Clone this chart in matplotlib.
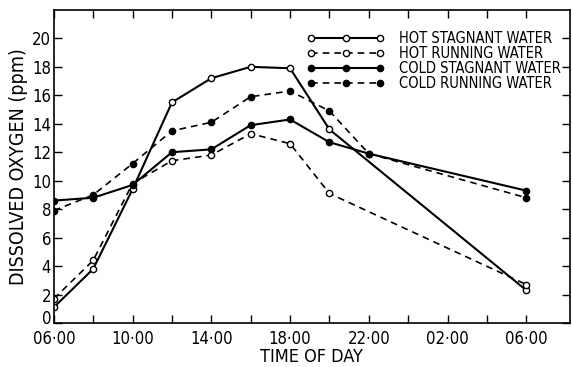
import numpy as np
import matplotlib
matplotlib.use("Agg")
import matplotlib.pyplot as plt
import matplotlib.transforms as mtransforms

# Data (hours after 06:00)
hours_a = [0, 2, 4, 6, 8, 10, 12, 14, 24]
hours_b = [0, 2, 4, 6, 8, 10, 12, 14, 16, 24]
hot_stagnant = [1.1, 3.8, 9.4, 15.5, 17.2, 18.0, 17.9, 13.6, 2.3]
hot_running = [1.7, 4.4, 9.8, 11.4, 11.8, 13.3, 12.6, 9.1, 2.7]
cold_stagnant = [8.6, 8.8, 9.7, 12.0, 12.2, 13.9, 14.3, 12.7, 11.9, 9.3]
cold_running = [7.9, 9.0, 11.2, 13.5, 14.1, 15.9, 16.3, 14.9, 11.9, 8.8]

xtick_pos = [0, 4, 8, 12, 16, 20, 24]
xtick_labels = ["06·00", "10·00", "14·00", "18·00", "22·00", "02·00", "06·00"]

plt.rcParams['font.family'] = ['DejaVu Sans']
plt.rcParams['font.stretch'] = 'condensed'

fig = plt.figure(figsize=(5.73, 3.67), dpi=100)
ax = fig.add_axes([0.094, 0.12, 0.9, 0.853])

ax.plot(hours_a, hot_stagnant, '-', color='black', lw=1.5, marker='o', ms=4.5,
        mfc='white', mew=1.0, label="HOT STAGNANT WATER")
ax.plot(hours_a, hot_running, '--', color='black', lw=1.2, marker='o', ms=4.5,
        mfc='white', mew=1.0, dashes=(4, 3), label="HOT RUNNING WATER")
ax.plot(hours_b, cold_stagnant, '-', color='black', lw=1.5, marker='o', ms=4.5,
        label="COLD STAGNANT WATER")
ax.plot(hours_b, cold_running, '--', color='black', lw=1.2, marker='o', ms=4.5,
        dashes=(4, 3), label="COLD RUNNING WATER")

ax.set_xlim(0, 26.2)
ax.set_ylim(0, 22)
ax.set_xticks(xtick_pos)
ax.set_xticklabels(xtick_labels, fontsize=12)
ax.set_xticks(np.arange(0, 26, 2), minor=True)
ax.set_yticks(np.arange(0, 21, 2))
ax.tick_params(axis='y', labelsize=12, pad=2)
ax.tick_params(axis='x', pad=5)
ax.tick_params(which='both', direction='in', top=True, right=True, length=6, width=1.0)
ax.tick_params(axis='x', which='minor', length=6)

# lift the "0" label a little so it clears the first time label
zero_lbl = ax.get_yticklabels()[0]
zero_lbl.set_transform(zero_lbl.get_transform() +
                       mtransforms.ScaledTranslation(0, 4 / 72, fig.dpi_scale_trans))

for s in ax.spines.values():
    s.set_linewidth(1.2)

ax.set_xlabel("TIME OF DAY", fontsize=13, labelpad=0)
ax.set_ylabel("DISSOLVED OXYGEN (ppm)", fontsize=14, labelpad=3)

ax.legend(loc='upper right', bbox_to_anchor=(1.0, 0.96), frameon=False,
          numpoints=3, handlelength=5.3, fontsize=10.5, labelspacing=0.0,
          handletextpad=1.0, borderaxespad=0.2)

fig.savefig("out.png", dpi=100)
